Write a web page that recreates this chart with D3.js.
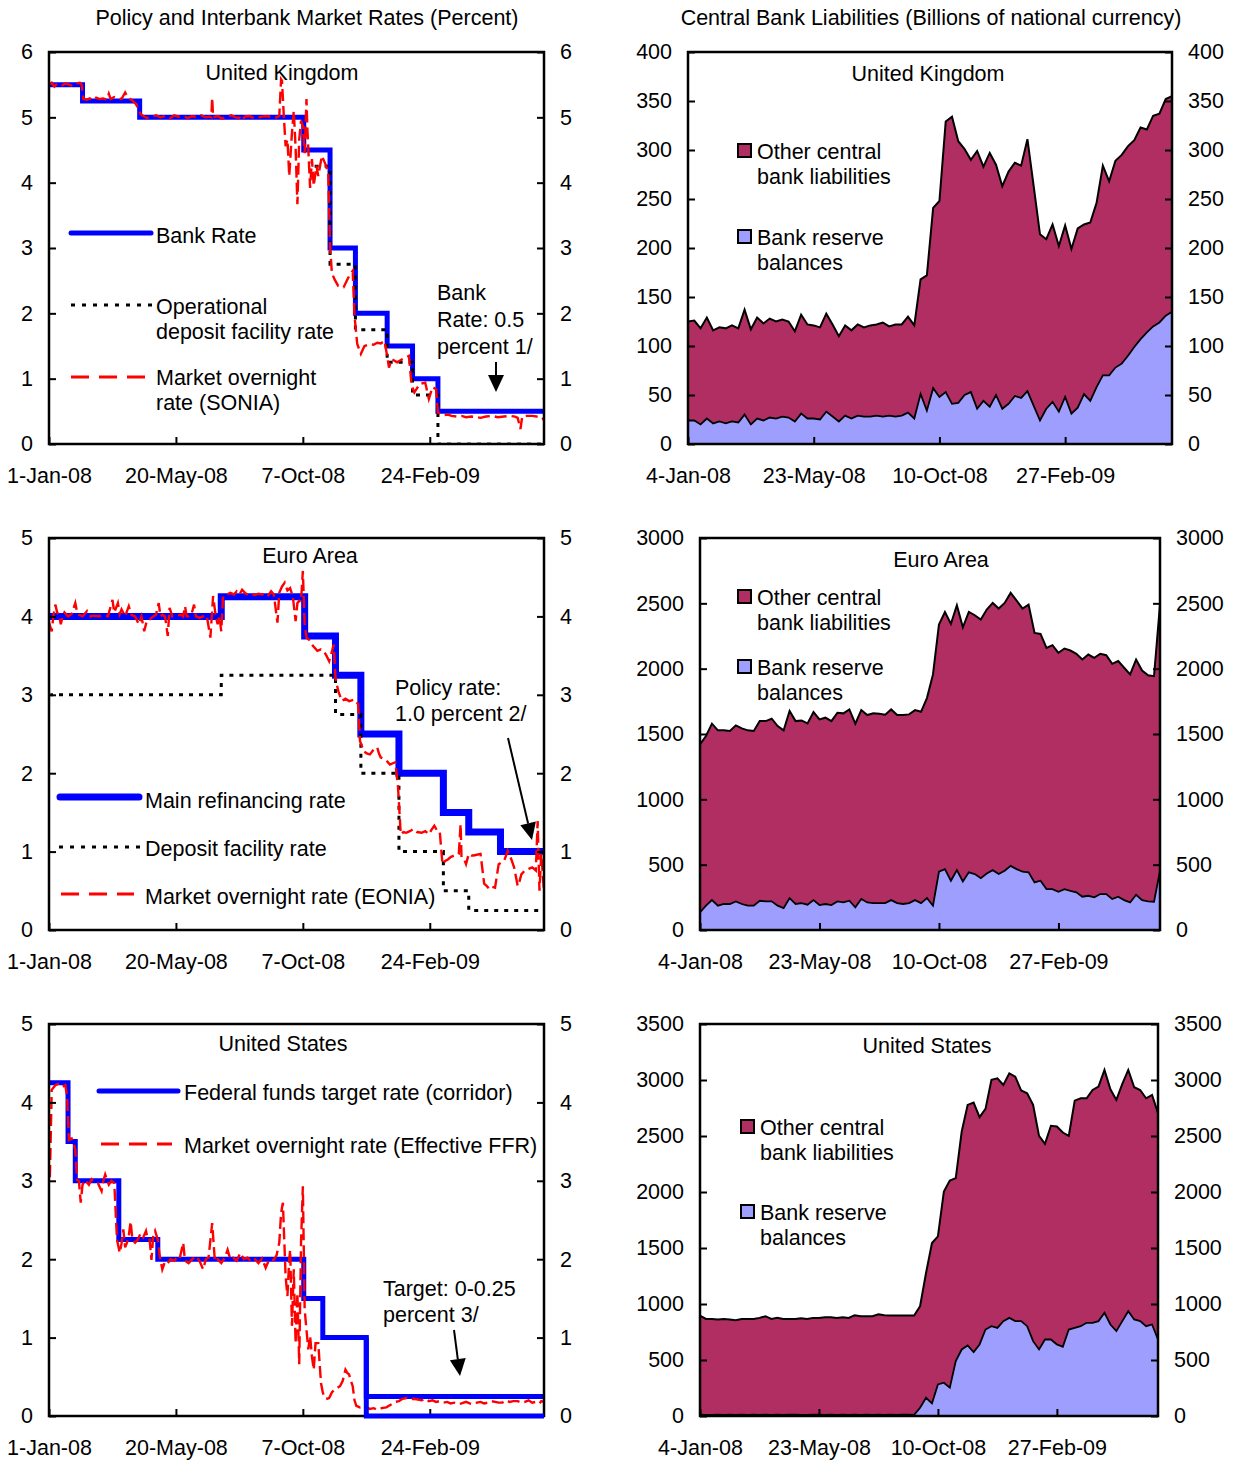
<!DOCTYPE html>
<html><head><meta charset="utf-8">
<script src="https://cdn.jsdelivr.net/npm/d3@7"></script>
<style>
body{margin:0;background:#fff}
text{font-family:"Liberation Sans",Arial,sans-serif;font-size:21.5px;fill:#000}
</style>
</head><body>
<svg id="c" width="1235" height="1462"></svg>
<script>
// ---------------- DATA ----------------
const leftTickDates = ["2008-01-01","2008-05-20","2008-10-07","2009-02-24"];
const leftTickLabels = ["1-Jan-08","20-May-08","7-Oct-08","24-Feb-09"];
const rightTickDates = ["2008-01-04","2008-05-23","2008-10-10","2009-02-27"];
const rightTickLabels = ["4-Jan-08","23-May-08","10-Oct-08","27-Feb-09"];
const leftStart = "2008-01-01", leftEnd = "2009-06-30";
const weekStart = "2008-01-04", weekEnd = "2009-06-26";

// United Kingdom policy rates
const ukBankDates = ["2008-01-01","2008-02-07","2008-04-10","2008-10-08","2008-11-06","2008-12-04","2009-01-08","2009-02-05","2009-03-05"];
const ukBankValues = [5.5,5.25,5.0,4.5,3.0,2.0,1.5,1.0,0.5];
const ukDepositDates = ["2008-10-20","2008-11-06","2008-12-04","2009-01-08","2009-02-05","2009-03-05"];
const ukDepositValues = [4.25,2.75,1.75,1.25,0.75,0];
// SONIA: [days since 1-Jan-08, percent]
const sonia = [[0,5.50],[3,5.53],[6,5.47],[9,5.52],[12,5.50],[15,5.49],[18,5.52],[22,5.50],[26,5.48],[30,5.52],[34,5.53],[36,5.50],
[38,5.28],[42,5.27],[45,5.29],[49,5.26],[52,5.30],[56,5.28],[60,5.29],[64,5.27],[66,5.36],[68,5.28],[72,5.31],[76,5.29],[80,5.28],[84,5.38],[87,5.30],[92,5.26],[96,5.20],[99,5.12],
[101,5.05],[104,5.02],[108,4.99],[113,5.01],[118,5.03],[123,5.00],[128,5.02],[133,4.98],[138,5.03],[143,5.01],[148,5.02],[153,4.99],[158,5.02],[163,5.00],[168,5.03],[173,5.00],[177,5.01],[179,5.00],[180,5.30],[181,5.00],[186,5.02],[191,4.98],[196,5.01],[201,5.03],[206,5.00],[211,4.99],[213,4.95],[216,5.01],[221,5.02],[226,4.99],[231,5.00],[236,5.01],[241,5.02],[246,4.99],[251,5.00],[254,5.02],
[256,5.58],[257,5.56],[259,5.02],[261,4.56],[263,4.66],[265,4.10],[268,4.77],[270,5.10],[272,4.54],[274,3.67],[276,4.66],[278,4.95],[280,4.87],[282,4.45],[284,5.28],[285,4.82],[288,3.92],[290,4.36],[292,3.95],[295,4.26],[297,4.10],[301,4.41],[305,4.28],[308,4.15],
[310,3.03],[312,2.62],[315,2.52],[319,2.42],[325,2.40],[331,2.57],[335,2.65],[337,1.96],[340,1.53],[344,1.38],[348,1.50],[354,1.53],[358,1.52],[362,1.55],[366,1.54],[370,1.58],[373,1.35],[375,1.17],[378,1.30],[384,1.25],[390,1.30],[397,1.35],[400,0.89],[403,0.79],[409,0.92],[415,0.94],[419,0.69],[423,0.87],[427,0.84],[429,0.48],
[432,0.46],[435,0.44],[440,0.45],[444,0.43],[450,0.42],[455,0.43],[460,0.41],[466,0.42],[472,0.41],[476,0.40],[482,0.42],[489,0.43],[495,0.41],[502,0.42],[509,0.43],[514,0.42],[517,0.40],[520,0.23],[522,0.42],[527,0.43],[533,0.43],[538,0.42],[544,0.41],[546,0.36]];

// Euro area policy rates
const euMroDates = ["2008-01-01","2008-07-09","2008-10-09","2008-11-12","2008-12-10","2009-01-21","2009-03-11","2009-04-08","2009-05-13"];
const euMroValues = [4.0,4.25,3.75,3.25,2.5,2.0,1.5,1.25,1.0];
const euDepositDates = ["2008-01-01","2008-07-09","2008-11-12","2008-12-10","2009-01-21","2009-03-11","2009-04-08"];
const euDepositValues = [3.0,3.25,2.75,2.0,1.0,0.5,0.25];
const eonia = [[0,3.92],[3,3.81],[5,4.02],[7,4.15],[9,4.05],[11,4.02],[13,3.90],[15,4.00],[17,4.05],[21,4.00],[25,4.03],[29,4.17],[31,4.05],[33,4.02],[37,4.00],[42,4.07],[46,4.00],[50,4.01],[55,4.00],[60,4.02],[65,4.00],[70,4.21],[72,4.05],[76,4.17],[78,4.03],[80,4.09],[84,4.00],[88,4.13],[91,4.02],[95,4.00],[99,3.90],[102,4.00],[105,3.81],[108,3.95],[111,3.96],[115,4.00],[118,4.02],[121,4.17],[123,4.00],[125,4.02],[128,4.00],[131,3.75],[133,4.11],[136,4.00],[141,4.01],[146,4.02],[148,4.00],[150,4.13],[152,4.00],[154,4.00],[157,4.02],[160,4.15],[162,4.00],[166,3.98],[170,4.00],[174,4.01],[178,3.73],[181,4.26],[184,4.00],[186,3.90],[188,4.00],[190,3.81],
[192,4.26],[196,4.28],[200,4.30],[204,4.28],[207,4.32],[210,4.28],[213,4.34],[217,4.29],[220,4.28],[223,4.30],[227,4.27],[231,4.29],[235,4.28],[239,4.30],[242,4.27],[245,4.32],[248,4.28],[252,3.92],[254,4.30],[257,4.38],[260,4.43],[263,4.33],[266,4.36],[269,4.25],[272,3.94],[274,4.17],[276,4.20],[278,4.19],[280,4.58],[282,3.90],
[284,3.73],[287,3.70],[290,3.64],[293,3.60],[296,3.56],[300,3.58],[303,3.56],[306,3.50],[309,3.43],[312,3.55],[314,3.64],[316,3.22],[319,3.05],[323,2.92],[327,2.95],[331,2.92],[334,2.93],[337,2.94],[341,2.88],[343,2.41],[345,2.35],[347,2.28],[351,2.25],[354,2.24],[358,2.30],[362,2.33],[364,2.25],[366,2.20],[370,2.18],[373,2.15],[376,2.11],[380,2.13],[382,2.14],[385,1.82],
[388,1.22],[391,1.25],[394,1.24],[398,1.26],[402,1.29],[406,1.25],[411,1.24],[415,1.26],[419,1.22],[422,1.28],[425,1.33],[428,1.27],[431,1.26],[434,0.84],[437,0.88],[440,0.90],[443,0.93],[447,0.95],[452,0.97],[454,1.35],[455,0.93],[458,0.90],[460,0.84],[463,0.97],[466,0.95],[468,0.95],[472,0.96],[476,0.97],[480,0.59],[483,0.56],[486,0.52],[489,0.55],[492,0.54],[496,0.84],[499,0.86],[502,0.88],[506,1.01],[510,0.90],[513,0.80],[517,0.56],[519,0.62],[521,0.71],[525,0.76],[529,0.78],[533,0.80],[537,0.76],[539,1.39],[541,0.50],[543,0.97],[546,0.50]];

// United States policy rates
const usTargetDates = ["2008-01-01","2008-01-22","2008-01-30","2008-03-18","2008-04-30","2008-10-08","2008-10-29","2008-12-16"];
const usTargetValues = [4.25,3.5,3.0,2.25,2.0,1.5,1.0,0.25];
const usCorridorLowStart = "2008-12-16", usCorridorLowValue = 0;
const effr = [[0,3.06],[1,3.06],[3,4.16],[7,4.22],[11,4.24],[15,4.20],[18,4.22],[20,4.07],[22,3.52],[25,3.54],[27,3.48],[29,3.40],[31,3.01],[33,3.00],[35,2.72],[37,2.95],[40,3.01],[44,2.95],[47,3.02],[50,2.99],[54,2.97],[58,2.87],[60,3.00],[62,3.08],[66,2.95],[69,3.00],[72,2.97],[75,2.25],
[78,2.08],[80,2.20],[82,2.38],[84,2.15],[86,2.21],[88,2.30],[90,2.48],[92,2.25],[95,2.21],[98,2.25],[101,2.33],[104,2.28],[107,2.36],[109,2.25],[111,2.25],[113,1.99],[115,2.30],[117,2.36],[120,2.25],[122,2.05],
[125,1.87],[128,1.97],[131,1.95],[134,2.00],[138,1.98],[141,2.02],[144,2.00],[148,2.21],[150,1.98],[154,1.95],[158,2.00],[162,2.04],[166,1.98],[170,1.87],[173,2.00],[176,2.02],[180,2.46],[183,1.97],[186,2.00],[190,1.95],[194,2.02],[197,2.12],[200,2.00],[203,2.02],[207,1.98],[211,2.08],[215,2.00],[219,2.02],[223,1.97],[227,2.00],[231,1.95],[235,2.01],[239,1.89],[243,2.00],[248,1.99],[251,2.05],[254,2.21],[256,2.59],[258,2.72],[259,2.40],[261,1.78],[263,1.53],[265,2.00],[266,2.12],[268,1.15],[270,1.87],[272,0.93],[274,1.57],[276,0.66],[278,2.21],[280,2.93],[282,1.36],[284,1.10],[286,0.85],[288,1.02],[290,0.76],[292,0.59],[294,0.93],[297,0.93],[300,0.42],[302,0.30],[304,0.23],[307,0.22],[309,0.23],[312,0.30],[315,0.34],[318,0.36],[321,0.38],[324,0.45],[327,0.59],[329,0.55],[331,0.53],[333,0.45],[335,0.38],[337,0.20],[339,0.13],[343,0.11],[346,0.12],[349,0.13],[352,0.10],[354,0.09],[358,0.10],[362,0.08],[367,0.10],[372,0.11],[375,0.13],[378,0.15],[382,0.18],[386,0.19],[390,0.22],[394,0.23],[398,0.21],[402,0.22],[407,0.21],[411,0.20],[415,0.22],[419,0.19],[423,0.20],[427,0.18],[431,0.19],[435,0.17],[439,0.18],[443,0.16],[447,0.17],[451,0.15],[455,0.16],[460,0.18],[464,0.16],[468,0.15],[472,0.17],[476,0.18],[480,0.16],[484,0.17],[488,0.19],[492,0.18],[496,0.17],[500,0.17],[504,0.20],[508,0.18],[512,0.19],[517,0.19],[521,0.17],[525,0.18],[529,0.20],[533,0.17],[537,0.18],[541,0.16],[543,0.19],[546,0.18]];

// Central bank liabilities, weekly from 4-Jan-08 (billions)
const ukTotal = [125,126,118,129,116,119,118,121,118,137,117,129,123,128,125,127,125,115,132,122,121,119,133,122,110,121,116,122,119,121,122,124,120,122,122,130,121,168,172,241,248,329,334,309,301,290,299,283,297,285,263,278,287,284,311,263,214,209,224,202,223,199,220,224,226,246,284,268,289,295,304,310,323,321,335,337,352,355];
const ukReserves = [24,24,20,26,21,23,21,23,22,30,20,26,24,27,26,28,27,23,31,26,26,25,33,28,23,29,26,29,28,28,29,28,29,28,29,32,26,51,34,57,48,53,41,42,50,53,36,44,38,50,36,41,49,47,54,39,24,36,43,33,48,31,37,51,44,58,70,70,78,82,90,99,107,114,120,124,131,135];
const euTotal = [1421,1485,1579,1528,1528,1523,1566,1543,1528,1523,1599,1599,1617,1561,1528,1676,1599,1604,1581,1668,1612,1625,1599,1663,1658,1688,1579,1683,1645,1658,1655,1648,1688,1645,1645,1650,1683,1670,1777,1956,2338,2434,2343,2485,2317,2434,2409,2376,2452,2503,2460,2503,2580,2521,2460,2490,2274,2266,2159,2180,2121,2154,2139,2114,2070,2108,2083,2114,2103,2037,2058,2007,1956,2070,1986,1950,1943,2490];
const euReserves = [135,186,229,186,199,199,219,199,186,186,224,219,219,186,168,244,199,206,194,229,191,199,191,219,211,224,173,237,211,206,206,206,229,206,199,206,229,206,244,186,446,466,377,458,372,441,428,397,433,458,428,453,491,466,446,441,364,377,313,313,293,313,300,288,255,262,250,275,275,237,255,229,211,270,229,219,216,453];
const usTotal = [897,867,867,862,867,862,856,867,867,867,876,891,867,876,867,867,867,873,867,876,876,882,882,876,882,876,900,891,891,891,909,900,897,897,897,897,897,980,1277,1545,1604,2005,2103,2124,2540,2778,2799,2668,2742,3001,3015,2956,3060,3030,2906,2882,2778,2501,2430,2591,2585,2531,2501,2816,2837,2837,2911,2941,3090,2917,2822,2965,3090,2935,2911,2837,2867,2704];
const usReserves = [12,10,9,11,10,12,9,11,10,13,10,12,9,11,10,12,11,9,10,12,11,10,12,9,11,10,12,10,11,9,12,10,11,10,12,11,10,74,163,113,282,297,253,490,594,630,570,639,772,802,787,847,876,847,847,802,668,594,683,683,639,618,772,787,802,832,832,847,921,817,758,847,936,862,847,802,817,683];

// ---------------- DRAWING ----------------
const svg = d3.select('#c');
const P = d3.timeParse('%Y-%m-%d');
const day0 = P(leftStart);
const fromDay = d => d3.timeDay.offset(day0, d);
const weekDates = ukTotal.map((_, i) => d3.timeDay.offset(P(weekStart), 7 * i));
const BLUE = '#0000ff', RED = '#ff0000', PURPLE = '#b02e62', LBLUE = '#9e9eff';
const FS = 21.5;
let clipN = 0;

function makeScales(p) {
  const id = 'clip' + (clipN++);
  svg.append('clipPath').attr('id', id).append('rect')
    .attr('x', p.x0 + 1.3).attr('y', p.y0 + 1.3).attr('width', p.x1 - p.x0 - 2.6).attr('height', p.y1 - p.y0 - 2.6);
  return {
    x: d3.scaleTime().domain(p.xDomain).range([p.x0, p.x1]),
    y: d3.scaleLinear().domain([0, p.yMax]).range([p.y1, p.y0]),
    clip: `url(#${id})`
  };
}
function drawFrame(p, s, tickDates, tickLabels) {
  const g = svg.append('g');
  const yt = d3.range(0, p.yMax + 1e-9, p.yStep);
  const ax = (gen, tx, ty) => {
    const a = g.append('g').attr('transform', `translate(${tx},${ty})`).call(gen);
    a.select('.domain').remove();
    a.selectAll('line').attr('stroke', '#000').attr('stroke-width', 2);
    a.selectAll('text').attr('font-family', 'Liberation Sans, Arial, sans-serif').attr('font-size', FS).attr('fill', '#000');
    return a;
  };
  ax(d3.axisLeft(s.y).tickValues(yt).tickSize(-7).tickPadding(16).tickFormat(d3.format('d')), p.x0, 0);
  ax(d3.axisRight(s.y).tickValues(yt).tickSize(-7).tickPadding(16).tickFormat(d3.format('d')), p.x1, 0);
  ax(d3.axisBottom(s.x).tickValues(tickDates.map(P)).tickSize(-7).tickPadding(24)
    .tickFormat((d, i) => tickLabels[i]), 0, p.y1);
  g.append('rect').attr('x', p.x0).attr('y', p.y0).attr('width', p.x1 - p.x0).attr('height', p.y1 - p.y0)
    .attr('fill', 'none').attr('stroke', '#000').attr('stroke-width', 2.5);
}
function txt(x, y, s, anchor) {
  svg.append('text').attr('x', x).attr('y', y).attr('dy', '0.35em').attr('text-anchor', anchor || 'start').text(s);
}
function stepPath(s, dates, values, endDate, color, w) {
  const pts = dates.map((d, i) => [P(d), values[i]]);
  pts.push([P(endDate), values[values.length - 1]]);
  svg.append('path').datum(pts).attr('fill', 'none').attr('stroke', color).attr('stroke-width', w)
    .attr('stroke-linejoin', 'miter')
    .attr('d', d3.line().x(d => s.x(d[0])).y(d => s.y(d[1])).curve(d3.curveStepAfter));
  return pts;
}
function dottedStep(s, dates, values, endDate) {
  const pts = dates.map((d, i) => [P(d), values[i]]);
  pts.push([P(endDate), values[values.length - 1]]);
  svg.append('path').datum(pts).attr('fill', 'none').attr('stroke', '#000').attr('stroke-width', 3)
    .attr('stroke-dasharray', '4,6').attr('clip-path', s.clip)
    .attr('d', d3.line().x(d => s.x(d[0])).y(d => s.y(d[1])).curve(d3.curveStepAfter));
}
function marketLine(s, data) {
  svg.append('path').datum(data).attr('fill', 'none').attr('stroke', RED).attr('stroke-width', 2.4)
    .attr('stroke-dasharray', '12,5')
    .attr('d', d3.line().x(d => s.x(fromDay(d[0]))).y(d => s.y(d[1])));
}
function legLine(x1, x2, y, type, w) {
  const l = svg.append('line').attr('x1', x1).attr('x2', x2).attr('y1', y).attr('y2', y);
  if (type === 'blue') l.attr('stroke', BLUE).attr('stroke-width', w).attr('stroke-linecap', 'round');
  if (type === 'dot') l.attr('stroke', '#000').attr('stroke-width', 3).attr('stroke-dasharray', '4,7');
  if (type === 'red') l.attr('stroke', RED).attr('stroke-width', 3).attr('stroke-dasharray', '18,10');
}
function arrow(x1, y1, x2, y2) {
  const ang = Math.atan2(y2 - y1, x2 - x1), L = 17, W = 8;
  const bx = x2 - L * Math.cos(ang), by = y2 - L * Math.sin(ang);
  svg.append('line').attr('x1', x1).attr('y1', y1).attr('x2', bx).attr('y2', by).attr('stroke', '#000').attr('stroke-width', 2);
  const px = -Math.sin(ang) * W, py = Math.cos(ang) * W;
  svg.append('path').attr('d', `M${x2},${y2}L${bx + px},${by + py}L${bx - px},${by - py}Z`).attr('fill', '#000');
}

// column titles
txt(307, 17, 'Policy and Interbank Market Rates (Percent)', 'middle');
txt(931, 17, 'Central Bank Liabilities (Billions of national currency)', 'middle');

// ---- UK rates ----
{
  const p = {x0: 49, x1: 544, y0: 52, y1: 444, yMax: 6, yStep: 1, xDomain: [P(leftStart), P(leftEnd)]};
  const s = makeScales(p);
  stepPath(s, ukBankDates, ukBankValues, leftEnd, BLUE, 5);
  dottedStep(s, ukDepositDates, ukDepositValues, leftEnd);
  marketLine(s, sonia);
  drawFrame(p, s, leftTickDates, leftTickLabels);
  txt(282, 72, 'United Kingdom', 'middle');
  legLine(71, 151, 233, 'blue', 5); txt(156, 235, 'Bank Rate');
  legLine(71, 152, 305, 'dot'); txt(156, 306, 'Operational'); txt(156, 331, 'deposit facility rate');
  legLine(71, 148, 377, 'red'); txt(156, 377, 'Market overnight'); txt(156, 402, 'rate (SONIA)');
  txt(437, 292, 'Bank'); txt(437, 319, 'Rate: 0.5'); txt(437, 346, 'percent 1/');
  arrow(496, 362, 496, 392);
}
// ---- Euro rates ----
{
  const p = {x0: 49, x1: 544, y0: 538, y1: 930, yMax: 5, yStep: 1, xDomain: [P(leftStart), P(leftEnd)]};
  const s = makeScales(p);
  stepPath(s, euMroDates, euMroValues, leftEnd, BLUE, 7);
  dottedStep(s, euDepositDates, euDepositValues, leftEnd);
  marketLine(s, eonia);
  drawFrame(p, s, leftTickDates, leftTickLabels);
  txt(310, 555, 'Euro Area', 'middle');
  legLine(60, 139, 797, 'blue', 7); txt(145, 800, 'Main refinancing rate');
  legLine(59, 140, 847, 'dot'); txt(145, 848, 'Deposit facility rate');
  legLine(61, 134, 894, 'red'); txt(145, 896, 'Market overnight rate (EONIA)');
  txt(395, 687, 'Policy rate:'); txt(395, 713, '1.0 percent 2/');
  arrow(508, 738, 532, 840);
}
// ---- US rates ----
{
  const p = {x0: 49, x1: 544, y0: 1024, y1: 1416, yMax: 5, yStep: 1, xDomain: [P(leftStart), P(leftEnd)]};
  const s = makeScales(p);
  stepPath(s, usTargetDates, usTargetValues, leftEnd, BLUE, 5);
  marketLine(s, effr);
  drawFrame(p, s, leftTickDates, leftTickLabels);
  const low = [[P(usCorridorLowStart), 1.0], [P(usCorridorLowStart), usCorridorLowValue], [P(leftEnd), usCorridorLowValue]];
  svg.append('path').datum(low).attr('fill', 'none').attr('stroke', BLUE).attr('stroke-width', 5)
    .attr('d', d3.line().x(d => s.x(d[0])).y(d => s.y(d[1])));
  txt(283, 1043, 'United States', 'middle');
  legLine(99, 178, 1091, 'blue', 5); txt(184, 1092, 'Federal funds target rate (corridor)');
  legLine(101, 172, 1144, 'red'); txt(184, 1145, 'Market overnight rate (Effective FFR)');
  txt(383, 1288, 'Target: 0-0.25'); txt(383, 1314, 'percent 3/');
  arrow(454, 1330, 460, 1376);
}

// ---- liabilities panels ----
function liabPanel(p, total, reserves, title, tx, ty, leg) {
  const s = makeScales(p);
  const tot = weekDates.map((d, i) => [d, total[i]]);
  const res = weekDates.map((d, i) => [d, reserves[i]]);
  const area = d3.area().x(d => s.x(d[0])).y0(s.y(0)).y1(d => s.y(d[1]));
  const line = d3.line().x(d => s.x(d[0])).y(d => s.y(d[1]));
  svg.append('path').datum(tot).attr('fill', PURPLE).attr('d', area);
  svg.append('path').datum(res).attr('fill', LBLUE).attr('d', area);
  svg.append('path').datum(tot).attr('fill', 'none').attr('stroke', '#000').attr('stroke-width', 2).attr('d', line);
  svg.append('path').datum(res).attr('fill', 'none').attr('stroke', '#000').attr('stroke-width', 1.8).attr('d', line);
  drawFrame(p, s, rightTickDates, rightTickLabels);
  txt(tx, ty, title, 'middle');
  const [lx, y1, y2] = leg;
  svg.append('rect').attr('x', lx).attr('y', y1 - 7).attr('width', 13).attr('height', 13).attr('fill', PURPLE).attr('stroke', '#000').attr('stroke-width', 2);
  txt(lx + 19, y1, 'Other central'); txt(lx + 19, y1 + 25, 'bank liabilities');
  svg.append('rect').attr('x', lx).attr('y', y2 - 7).attr('width', 13).attr('height', 13).attr('fill', LBLUE).attr('stroke', '#000').attr('stroke-width', 2);
  txt(lx + 19, y2, 'Bank reserve'); txt(lx + 19, y2 + 25, 'balances');
}
liabPanel({x0: 688, x1: 1172, y0: 52, y1: 444, yMax: 400, yStep: 50, xDomain: [P(weekStart), P(weekEnd)]},
  ukTotal, ukReserves, 'United Kingdom', 928, 73, [738, 151, 237]);
liabPanel({x0: 700, x1: 1160, y0: 538, y1: 930, yMax: 3000, yStep: 500, xDomain: [P(weekStart), P(weekEnd)]},
  euTotal, euReserves, 'Euro Area', 941, 559, [738, 597, 667]);
liabPanel({x0: 700, x1: 1158, y0: 1024, y1: 1416, yMax: 3500, yStep: 500, xDomain: [P(weekStart), P(weekEnd)]},
  usTotal, usReserves, 'United States', 927, 1045, [741, 1127, 1212]);
</script>
</body></html>
